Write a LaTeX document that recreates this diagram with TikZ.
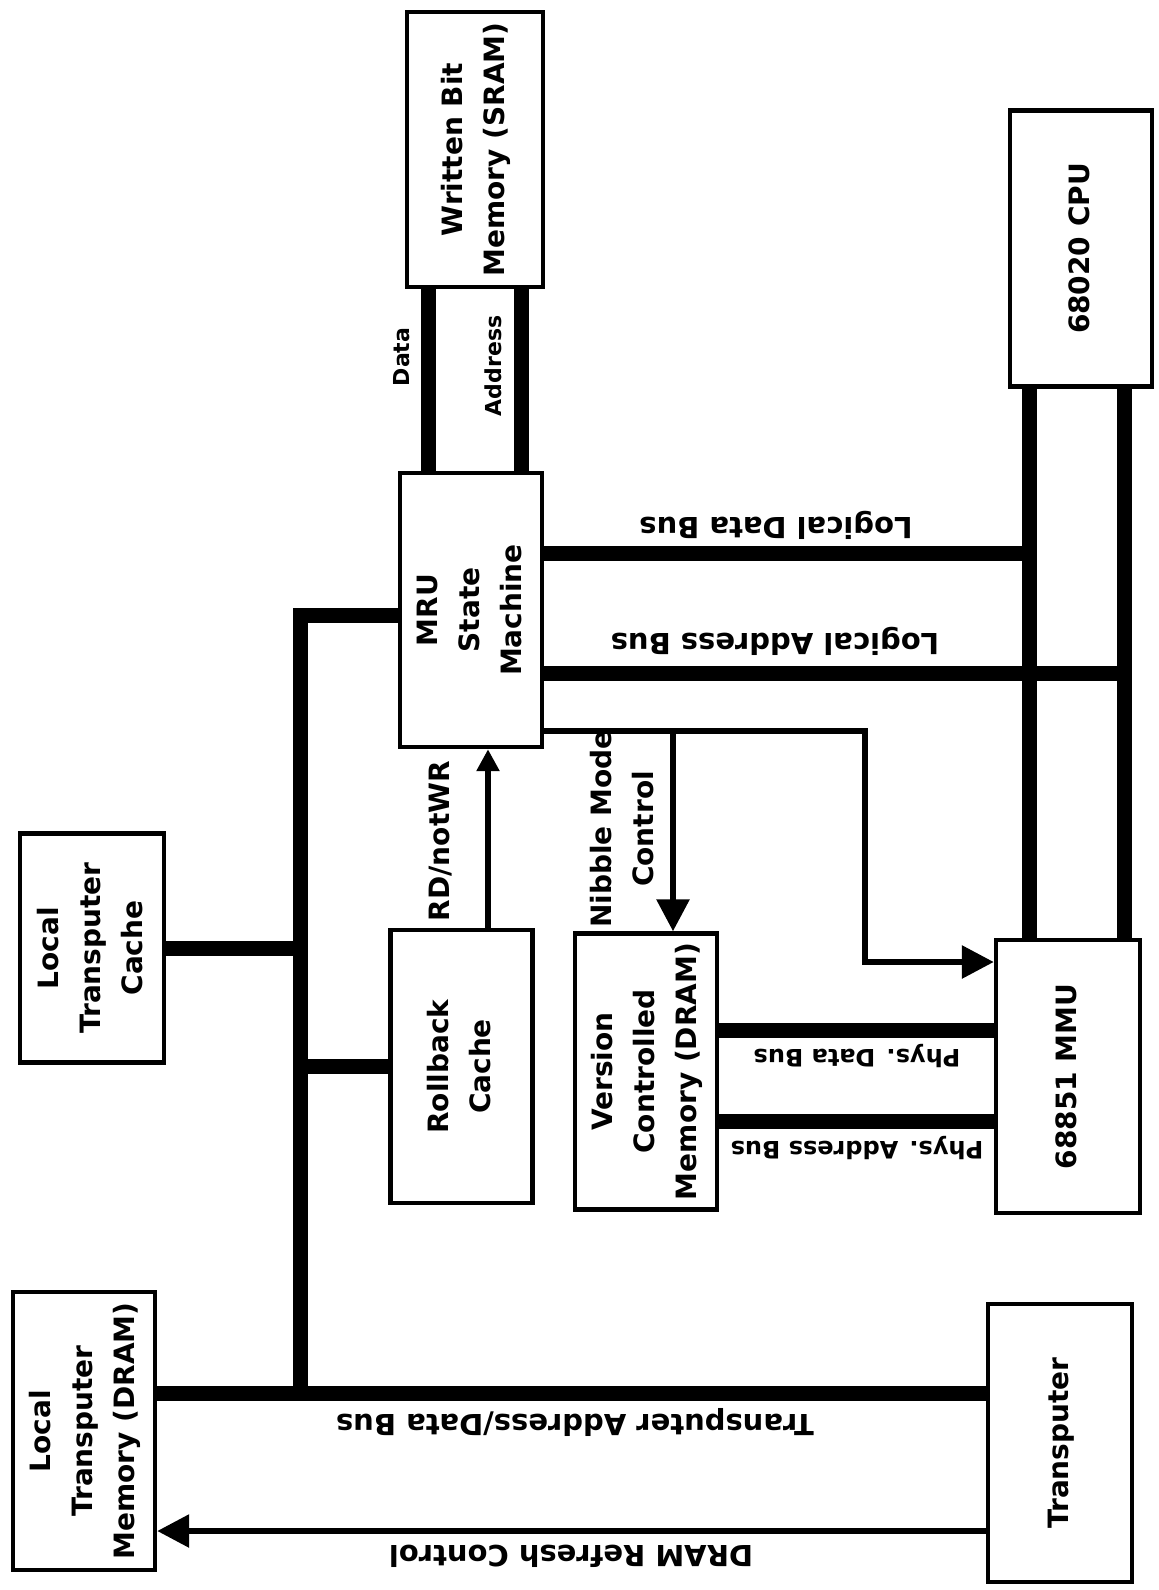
\documentclass[tikz,border=0pt]{standalone}
\usepackage{fontspec}
\usepackage{graphicx}
\setmainfont{DejaVu Sans}
\usetikzlibrary{arrows.meta}

\newcommand{\uptext}[1]{\rotatebox{90}{\begin{tabular}{@{}c@{}}#1\end{tabular}}}

\begin{document}
\begin{tikzpicture}[
                x=0.5pt, y=-0.5pt,
                blocknode/.style={
                    draw, line width=2.2pt, inner sep=0pt, align=center,
                    minimum width=71pt, minimum height=138pt,
                    font=\bfseries\fontsize{14}{21}\selectfont
                },
                busline/.style={line width=7.5pt},
                sigline/.style={line width=3pt, line join=miter, -{Triangle[length=16pt, width=16pt]}},
                smallsig/.style={line width=3pt, -{Triangle[length=11pt, width=11pt]}},
                buslabel/.style={inner sep=0pt, rotate=180, font=\bfseries\fontsize{14.5}{21}\selectfont},
                sidelabel/.style={inner sep=0pt, rotate=90, align=center, font=\bfseries\fontsize{14}{21}\selectfont}
            ]
            \path[use as bounding box, fill=white] (0,0) rectangle (1159,1590);

            \node[blocknode, minimum width=68pt, minimum height=137.5pt] (WBM) at (475, 149.5) {\uptext{Written Bit\\Memory (SRAM)}};
            \node[blocknode] (CPU) at (1081, 248.5) {\uptext{68020 CPU}};
            \node[blocknode, minimum height=137pt] (MRU) at (471, 610) {\uptext{MRU\\State\\Machine}};
            \node[blocknode, minimum width=72pt, minimum height=114.5pt] (LTC) at (92, 948) {\uptext{Local\\Transputer\\Cache}};
            \node[blocknode, minimum height=136.5pt] (RBC) at (461.5, 1066.5) {\uptext{Rollback\\Cache}};
            \node[blocknode] (VCM) at (646, 1071.5) {\uptext{Version\\Controlled\\Memory (DRAM)}};
            \node[blocknode, minimum width=72pt, minimum height=136.5pt] (MMU) at (1068, 1076.5) {\uptext{68851 MMU}};
            \node[blocknode, minimum height=139pt] (LTM) at (84, 1431) {\uptext{Local\\Transputer\\Memory (DRAM)}};
            \node[blocknode, minimum width=72pt, minimum height=139pt] (TRN) at (1060, 1443) {\uptext{Transputer}};

            \coordinate (xdata) at (428, 0);
            \coordinate (xaddr) at (521, 0);
            \coordinate (xcl) at (1029, 0);
            \coordinate (xcr) at (1124, 0);
            \coordinate (ldb) at (1029, 553);
            \coordinate (lab) at (1124, 673);
            \coordinate (nib) at (673, 731);
            \coordinate (ctl) at (865, 962);
            \coordinate (rdw) at (488, 0);
            \coordinate (btop) at (300, 615);
            \coordinate (bbot) at (300, 1393);

            % buses
            \draw[busline] (WBM.south -| xdata) -- (MRU.north -| xdata);
            \draw[busline] (WBM.south -| xaddr) -- (MRU.north -| xaddr);
            \draw[busline] (CPU.south -| xcl) -- (MMU.north -| xcl);
            \draw[busline] (CPU.south -| xcr) -- (MMU.north -| xcr);
            \draw[busline] (MRU.east |- ldb) -- (ldb);
            \draw[busline] (MRU.east |- lab) -- (lab);
            \draw[busline] (VCM.east |- 0,1030) -- (MMU.west |- 0,1030);
            \draw[busline] (VCM.east |- 0,1121) -- (MMU.west |- 0,1121);
            \draw[busline, line join=miter] (MRU.west |- btop) -- (btop) -- (bbot);
            \draw[busline] (LTC.east) -- (LTC.east -| btop);
            \draw[busline] (RBC.west) -- (RBC.west -| btop);
            \draw[busline] (LTM.east |- bbot) -- (TRN.west |- bbot);

            % control lines
            \draw[sigline] (MRU.east |- nib) -| (ctl) -- (MMU.west |- ctl);
            \draw[sigline] (nib) -- (VCM.north -| nib);
            \draw[smallsig] (RBC.north -| rdw) -- (MRU.south -| rdw);
            \draw[sigline] (TRN.west |- 0,1531) -- (LTM.east |- 0,1531);

            \node[sidelabel, font=\bfseries\fontsize{11}{13}\selectfont] (datalab) at (402, 357) {Data};
            \node[sidelabel, font=\bfseries\fontsize{11}{13}\selectfont] (addrlab) at (493, 366) {Address};
            \node[buslabel] (ldblab) at (776, 525) {Logical Data Bus};
            \node[buslabel] (lablab) at (775, 641) {Logical Address Bus};
            \node[sidelabel] (rdwlab) at (441, 841) {RD/notWR};
            \node[sidelabel] (niblab) at (622, 829) {Nibble Mode\\Control};
            \node[buslabel, font=\bfseries\fontsize{12}{14}\selectfont] (pdblab) at (857, 1056) {Phys. Data Bus};
            \node[buslabel, font=\bfseries\fontsize{12}{14}\selectfont] (pablab) at (857, 1148) {Phys. Address Bus};
            \node[buslabel] (tbllab) at (575, 1422) {Transputer Address/Data Bus};
            \node[buslabel] (drllab) at (571, 1556) {DRAM Refresh Control};
            \end{tikzpicture}
\end{document}
